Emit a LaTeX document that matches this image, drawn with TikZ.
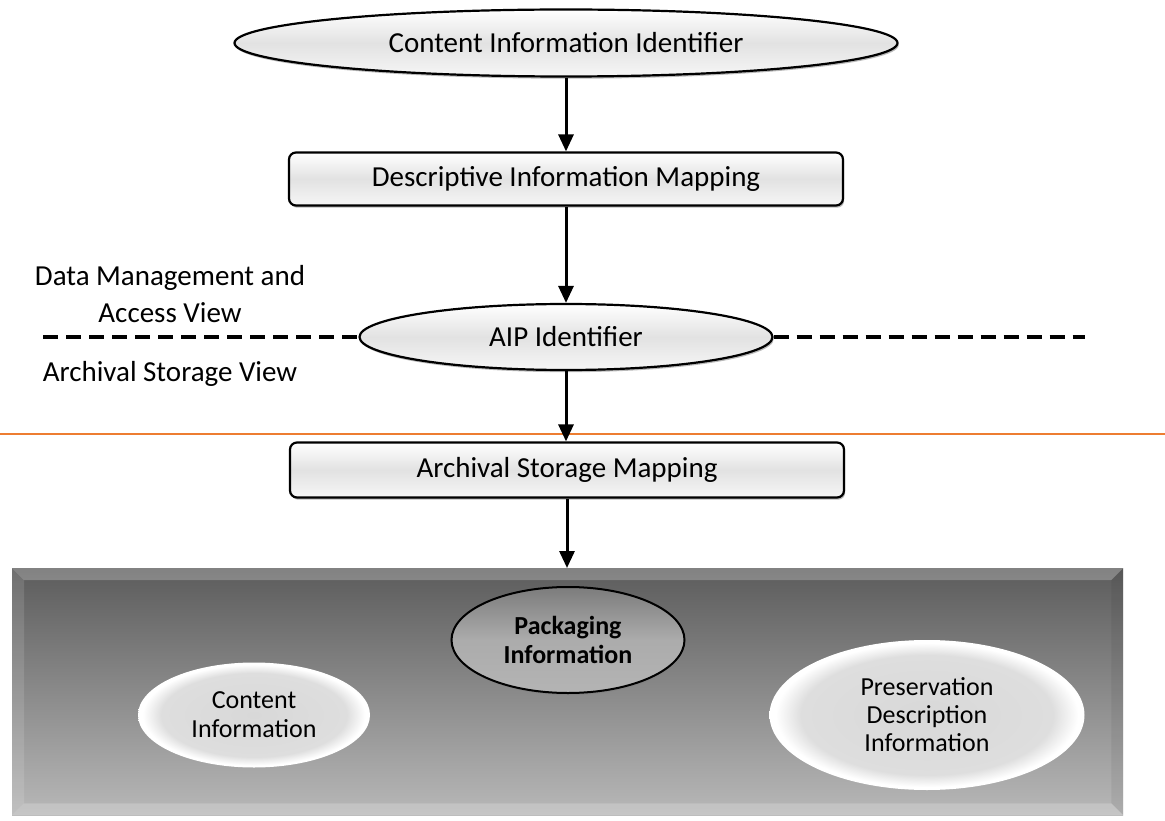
\documentclass[tikz,border=0pt]{standalone}
\usepackage{fontspec}
\setmainfont{Carlito}
\usetikzlibrary{shapes.geometric,arrows.meta,shadows}
\definecolor{orangeline}{RGB}{237,125,49}
\definecolor{boxmid}{RGB}{226,226,226}
\definecolor{boxbot}{RGB}{246,246,246}
\definecolor{bigtop}{RGB}{92,92,92}
\definecolor{bigbot}{RGB}{184,184,184}
\definecolor{glowin}{RGB}{216,216,216}
\definecolor{glowmid}{RGB}{222,222,222}
\definecolor{pkgtop}{RGB}{124,124,124}
\definecolor{pkgbot}{RGB}{180,180,180}
\pgfdeclareradialshading{glow}{\pgfpoint{0bp}{0bp}}{color(0bp)=(glowin); color(20bp)=(glowmid); color(24bp)=(white); color(25bp)=(white); color(50bp)=(white)}
\begin{document}
\begin{tikzpicture}[x=1pt,y=-1pt,
  bigfont/.style={font=\fontsize{29}{35}\selectfont},
  smallfont/.style={font=\fontsize{26}{29}\selectfont},
  glossy/.style={draw=black, line width=2.2pt, top color=white, bottom color=boxbot, middle color=boxmid,
    drop shadow={shadow xshift=1.2pt, shadow yshift=-2.2pt, opacity=0.55}},
  ibox/.style={glossy, rectangle, rounded corners=7pt, minimum width=554pt, minimum height=53pt, inner sep=0pt, bigfont},
  iell/.style={glossy, ellipse, inner sep=0pt, bigfont},
  conn/.style={line width=3pt, -{Triangle[width=15pt,length=17pt]}},
  viewdash/.style={line width=4pt, dash pattern=on 15pt off 8pt},
  lbl/.style={bigfont, inner sep=0pt, anchor=base},
  glowell/.style={ellipse, shading=glow, inner sep=0pt, align=center, smallfont},
  pkg/.style={ellipse, draw=black, line width=2pt, top color=pkgtop, bottom color=pkgbot, middle color=pkgbot!85!pkgtop, inner sep=0pt, align=center, smallfont,
    drop shadow={shadow xshift=0.8pt, shadow yshift=-2pt, opacity=0.6}}
]
\useasboundingbox (0,0) rectangle (1165,821);

% top part
\node[iell, minimum width=663pt, minimum height=67pt] (cii) at (566,43) {Content Information Identifier};
\node[ibox] (dim) at (566,179) {Descriptive Information Mapping};
\node[iell, minimum width=413pt, minimum height=66pt] (aip) at (566,337) {AIP Identifier};

% view separators
\coordinate (dl) at (43,337);
\coordinate (dr) at (1085,337);
\draw[viewdash] (dl) -- (aip.west);
\draw[viewdash] (aip.east) -- (dr);
\node[lbl] (dm1) at (170,285) {Data Management and};
\node[lbl] (dm2) at (170,322) {Access View};
\node[lbl] (asv) at (170,381) {Archival Storage View};

\coordinate (ol) at (0,434);
\coordinate (or) at (1165,434);
\draw[orangeline, line width=1.6pt] (ol) -- (or);

\node[ibox, minimum height=55pt] (asm) at (567,470) {Archival Storage Mapping};

% big container
\node[rectangle, minimum width=1111pt, minimum height=247pt, inner sep=0pt,
  top color=bigtop, bottom color=bigbot, anchor=north west] (box) at (12,568) {};
\fill[white, opacity=0.24] (box.north west) -- (box.north east) -- ([xshift=-12pt,yshift=-12pt]box.north east) -- ([xshift=12pt,yshift=-12pt]box.north west) -- cycle;
\fill[white, opacity=0.12] (box.north west) -- ([xshift=12pt,yshift=-12pt]box.north west) -- ([xshift=12pt,yshift=12pt]box.south west) -- (box.south west) -- cycle;
\fill[white, opacity=0.2] (box.south west) -- ([xshift=12pt,yshift=12pt]box.south west) -- ([xshift=-12pt,yshift=12pt]box.south east) -- (box.south east) -- cycle;
\fill[black, opacity=0.06] (box.north east) -- ([xshift=-12pt,yshift=-12pt]box.north east) -- ([xshift=-12pt,yshift=12pt]box.south east) -- (box.south east) -- cycle;

\node[glowell, minimum width=232pt, minimum height=105pt] (ci) at (254,715) {Content\\Information};
\node[pkg, minimum width=233pt, minimum height=106pt] (pi) at (568,640) {\bfseries Packaging\\\bfseries Information};
\node[glowell, minimum width=315pt, minimum height=150pt, font=\fontsize{26}{28}\selectfont] (pdi) at (927,715) {Preservation\\Description\\Information};

% connectors
\draw[conn] (cii.south) -- (dim.north);
\draw[conn] (dim.south) -- (aip.north);
\draw[conn] (aip.south) -- (aip.south |- asm.north);
\draw[conn] (asm.south) -- (asm.south |- box.north);
\end{tikzpicture}
\end{document}
